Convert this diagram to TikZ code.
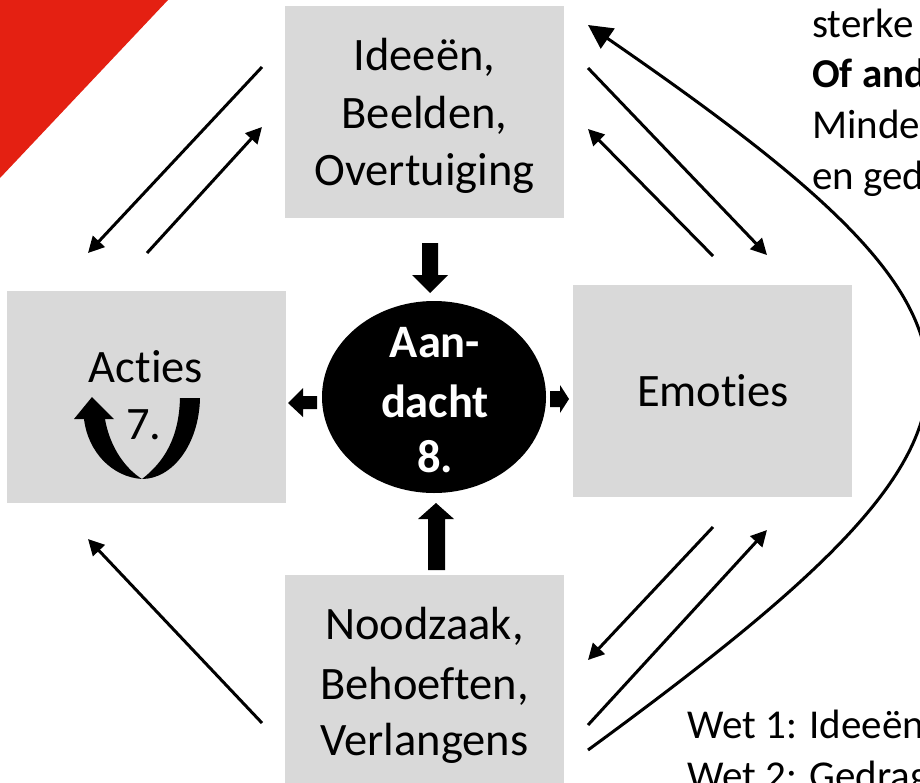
\documentclass[tikz,border=0pt]{standalone}
\usepackage{fontspec}
\setmainfont{Carlito}[Ligatures={NoCommon}]
\usetikzlibrary{arrows.meta,shapes.geometric}
\definecolor{boxgray}{HTML}{D9D9D9}
\definecolor{cornerred}{HTML}{E42012}
\begin{document}
\begin{tikzpicture}[x=1pt,y=-1pt,
  panel/.style={fill=boxgray, draw=none, minimum width=279pt, minimum height=212pt,
    inner sep=0pt, anchor=north west},
  label/.style={anchor=base, inner sep=0pt, font=\fontsize{46.5}{57}\selectfont},
  focustext/.style={anchor=base, inner sep=0pt, text=white,
    font=\fontsize{46.5}{57}\selectfont\bfseries},
  side/.style={anchor=base west, inner sep=0pt, font=\fontsize{41}{51}\selectfont},
  link/.style={line width=3pt, -{Triangle[length=16pt,width=16pt]}},
  bigarrow/.style={fill=black, draw=none}]
\useasboundingbox (0,0) rectangle (920,782);
\clip (0,0) rectangle (920,782);

% red corner
\fill[cornerred] (0,0) -- (168,0) -- (0,178) -- cycle;

% grey panels
\node[panel] (ideas) at (285,6) {};
\node[panel] (acts)  at (7,291) {};
\node[panel] (emo)   at (573,285) {};
\node[panel] (needs) at (285,575) {};

% central attention ellipse
\node[ellipse, fill=black, minimum width=224pt, minimum height=192pt, inner sep=0pt]
  (focus) at (434,397) {};

% panel texts
\node[label] (ideas1) at (424.5,70)  {Ideeën,};
\node[label] (ideas2) at (424.5,128) {Beelden,};
\node[label] (ideas3) at (424.5,185) {Overtuiging};
\node[label] (acts1)  at (146,382) {Acties};
\node[label] (acts2)  at (144,439) {7.};
\node[label] (emo1)   at (713,406) {Emoties};
\node[label] (needs1) at (424.5,639) {Noodzaak,};
\node[label] (needs2) at (424.5,699) {Behoeften,};
\node[label] (needs3) at (424.5,755) {Verlangens};
\node[focustext] (focus1) at (435,357) {Aan-};
\node[focustext] (focus2) at (435,417) {dacht};
\node[focustext] (focus3) at (435,472) {8.};

% side notes
\node[side] (note1) at (812,37)  {sterke};
\node[side, font=\fontsize{41}{51}\selectfont\bfseries] (note2) at (812,87) {Of and};
\node[side] (note3) at (812,138) {Minde};
\node[side] (note4) at (812,189) {en ged};
\node[side] (law1) at (687,738) {Wet 1: Ideeën};
\node[side] (law2) at (687,789) {Wet 2: Gedrag};

% block arrows around the ellipse
\fill[bigarrow] (422,243) -- (438,243) -- (438,275) -- (448,275) -- (430,293)
  -- (412,275) -- (422,275) -- cycle;
\fill[bigarrow] (428,570) -- (445,570) -- (445,519) -- (454,519) -- (436,503)
  -- (418,519) -- (428,519) -- cycle;
\fill[bigarrow] (317,396) -- (317,409) -- (303,409) -- (303,417) -- (288,403)
  -- (303,388) -- (303,396) -- cycle;
\fill[bigarrow] (550,391) -- (560,391) -- (560,385) -- (569,399) -- (560,413)
  -- (560,407) -- (550,407) -- cycle;

% U-turn arrow inside the actions panel
\fill[bigarrow] (200,398) .. controls (199,445) and (172,479) .. (142,479)
  .. controls (112,477) and (88,452) .. (84,419)
  -- (74,419) -- (92,397) -- (114,419) -- (105,419)
  .. controls (110,448) and (126,469) .. (142,479)
  .. controls (164,462) and (179,438) .. (180,398) -- cycle;

% thin connectors
\coordinate (a1) at (262,67);  \coordinate (a2) at (88,253);
\coordinate (b1) at (147,253); \coordinate (b2) at (262,127);
\coordinate (c1) at (262,723); \coordinate (c2) at (88,539);
\coordinate (d1) at (588,68);  \coordinate (d2) at (767,255);
\coordinate (e1) at (713,256); \coordinate (e2) at (588,129);
\coordinate (f1) at (713,527); \coordinate (f2) at (588,660);
\coordinate (g1) at (588,725); \coordinate (g2) at (767,530);
\coordinate (h1) at (588,750); \coordinate (h2) at (588,25);
\draw[link] (a1) -- (a2);
\draw[link] (b1) -- (b2);
\draw[link] (c1) -- (c2);
\draw[link] (d1) -- (d2);
\draw[link] (e1) -- (e2);
\draw[link] (f1) -- (f2);
\draw[link] (g1) -- (g2);
\draw[line width=3pt, -{Triangle[length=24pt,width=24pt]}]
  (h1) .. controls (1038,421) and (1038,335) .. (h2);
\end{tikzpicture}
\end{document}
